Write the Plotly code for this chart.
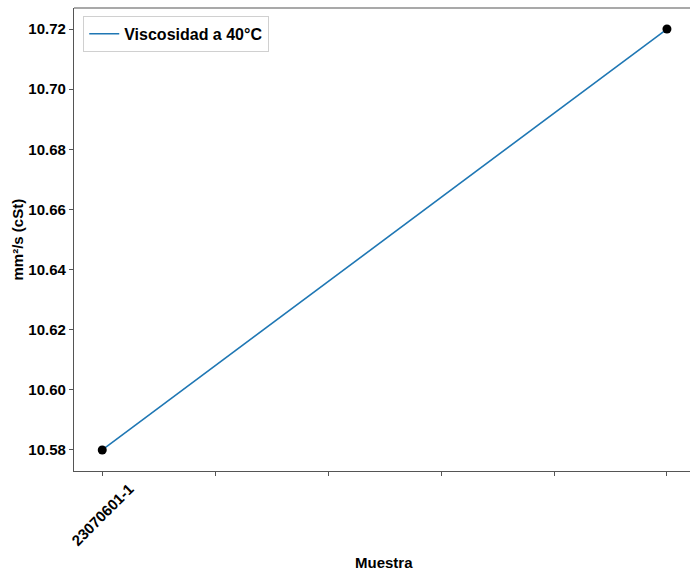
import plotly.graph_objects as go

tick_labels = ['23070601-1', '', '', '', '', '']
tick_positions = [0, 1, 2, 3, 4, 5]
x_index = [0, 5]
viscosity = [10.58, 10.72]
y_ticks = [10.58, 10.60, 10.62, 10.64, 10.66, 10.68, 10.70, 10.72]

FONT = "Liberation Sans"
fig = go.Figure()
fig.add_trace(go.Scatter(x=x_index, y=viscosity, mode='lines', name='Viscosidad a 40°C',
                         line=dict(color='#1f77b4', width=1.6)))
fig.add_trace(go.Scatter(x=x_index, y=viscosity, mode='markers', showlegend=False,
                         marker=dict(color='black', size=9)))

fig.update_layout(
    width=690, height=571,
    margin=dict(l=74, r=0, t=8, b=100),
    plot_bgcolor='white', paper_bgcolor='white',
    font=dict(family=FONT, size=15, color='black'),
    showlegend=True,
    legend=dict(x=0.015, y=0.983, xanchor='left', yanchor='top',
                bgcolor='rgba(255,255,255,0.8)', bordercolor='#d0d0d0', borderwidth=1,
                font=dict(family=FONT, size=16, color='black', weight='bold')),
    xaxis=dict(range=[-0.25, 5.204], tickvals=tick_positions,
               ticktext=['' for _ in tick_labels],
               showgrid=False, zeroline=False, showline=True,
               linecolor='#555555', linewidth=1.2, ticks='outside', ticklen=4,
               tickcolor='#555555'),
    yaxis=dict(range=[10.573, 10.727], tickvals=y_ticks,
               ticktext=[f'{v:.2f}' for v in y_ticks], showgrid=False, zeroline=False,
               showline=True, linecolor='#555555', linewidth=1.2, ticks='outside',
               ticklen=4, tickcolor='#555555',
               tickfont=dict(family=FONT, size=15, weight='bold')),
    shapes=[dict(type='line', xref='paper', yref='paper', x0=0, x1=1, y0=1, y1=1,
                 line=dict(color='#555555', width=1.2))],
    annotations=[
        dict(text='Muestra', xref='paper', yref='paper', x=0.503, y=-0.1966,
             xanchor='center', yanchor='middle', showarrow=False,
             font=dict(family=FONT, size=15, weight='bold')),
        dict(text='mm²/s (cSt)', xref='paper', yref='paper', x=-0.0925, y=0.5,
             xanchor='center', yanchor='middle', textangle=-90, showarrow=False,
             font=dict(family=FONT, size=15, weight='bold')),
    ],
)
for pos, lab in zip(tick_positions, tick_labels):
    if lab:
        fig.add_annotation(text=lab, x=pos, xref='x', yref='paper', y=-0.0929,
                           xanchor='center', yanchor='middle', textangle=-45,
                           showarrow=False, font=dict(family=FONT, size=15, weight='bold'))
fig.write_html("out.html")
